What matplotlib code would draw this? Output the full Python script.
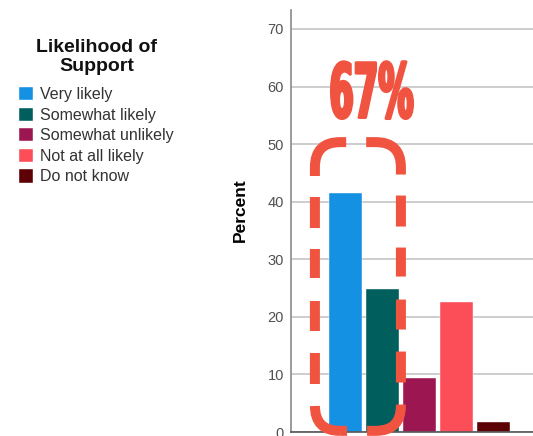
import matplotlib
matplotlib.use("Agg")
import matplotlib.pyplot as plt
from matplotlib.patches import FancyBboxPatch
from matplotlib.patheffects import AbstractPathEffect
from matplotlib.transforms import Affine2D

# data
categories = ["Very likely", "Somewhat likely", "Somewhat unlikely",
              "Not at all likely", "Do not know"]
percent = [41.6, 24.8, 9.4, 22.5, 1.7]
colors = ["#1591e4", "#005e5c", "#9c1752", "#fb4e58", "#5c0006"]
y_ticks = [0, 10, 20, 30, 40, 50, 60, 70]
legend_title = "Likelihood of\nSupport"
callout = "67%"

# dash pattern of the callout box, in units of its line width (10 px)
box_dashes = [0.7, 2.0, 5.06, 2.2, 3.1, 2.2, 3.0, 2.3, 2.9, 2.1, 3.1, 2.1,
              5.76, 2.0, 5.56, 2.1, 3.1, 2.1, 2.9, 2.3, 3.0, 2.2, 3.1, 2.2, 4.16, 0.0]


class Squeeze(AbstractPathEffect):
    # narrows (and slightly fattens) the glyphs around their centre
    def __init__(self, sx, stroke=0.0):
        super().__init__()
        self.sx = sx
        self.stroke = stroke

    def draw_path(self, renderer, gc, tpath, affine, rgbFace=None):
        bb = tpath.get_extents(affine)
        cx = (bb.x0 + bb.x1) / 2
        a = affine + Affine2D().translate(-cx, 0).scale(self.sx, 1).translate(cx, 0)
        gc0 = renderer.new_gc()
        gc0.copy_properties(gc)
        gc0.set_linewidth(self.stroke)
        gc0.set_joinstyle("round")
        renderer.draw_path(gc0, tpath, a, rgbFace)
        gc0.restore()


plt.rcParams["font.family"] = ["Liberation Sans", "DejaVu Sans"]

fig = plt.figure(figsize=(5.33, 4.36), dpi=100)
ax = fig.add_axes([291 / 533, 4 / 436, 1 - 291 / 533, 422 / 436])

x = list(range(len(categories)))
bars = ax.bar(x, percent, width=0.89, color=colors, zorder=2,
              edgecolor="white", linewidth=0.3)

ax.set_xlim(-1.47, 5.07)
ax.set_ylim(0, 73.3)
ax.set_yticks(y_ticks)
ax.set_xticks([])
ax.yaxis.grid(True, color="#cdcdcd", linewidth=1.4, zorder=0)
ax.set_axisbelow(True)
ax.tick_params(axis="y", length=0, pad=5, labelsize=10.5, labelcolor="#505050")
for s in ["top", "right"]:
    ax.spines[s].set_visible(False)
ax.spines["left"].set_color("#8a8a8a")
ax.spines["left"].set_linewidth(1.2)
ax.spines["bottom"].set_color("#555555")
ax.spines["bottom"].set_linewidth(1.2)
ax.set_ylabel("Percent", fontsize=12.5, fontweight="bold")
ax.yaxis.set_label_coords(-0.178, 0.526)

# dashed rounded callout around the first two bars
box = FancyBboxPatch((-0.824, 0.2), 2.324, 50.15,
                     boxstyle="round,pad=0,rounding_size=0.68",
                     mutation_aspect=6.42, fill=False,
                     edgecolor="#f0533f", linewidth=7.2,
                     linestyle=(0, box_dashes), capstyle="butt",
                     clip_on=False, zorder=3)
ax.add_patch(box)
ax.text(0.69, 58.2, callout, ha="center", va="center", color="#f0533f",
        fontsize=54, fontweight="bold", family=["DejaVu Sans"],
        path_effects=[Squeeze(0.47, stroke=2.2)], zorder=4)

# legend: title as its own text, entries below it
fig.text(97 / 533, 1 - 39 / 436, legend_title, ha="center", va="top",
         multialignment="center", fontsize=14, fontweight="bold",
         linespacing=1.12, color="#111111")
leg = fig.legend(bars, categories,
                 loc="upper left", bbox_to_anchor=(19 / 533, 1 - 87 / 436),
                 frameon=False, fontsize=11.5,
                 handlelength=0.9, handleheight=0.9, handletextpad=0.4,
                 labelspacing=0.34, borderpad=0, borderaxespad=0)
for t in leg.get_texts():
    t.set_color("#333333")

fig.savefig("out.png", dpi=100)
